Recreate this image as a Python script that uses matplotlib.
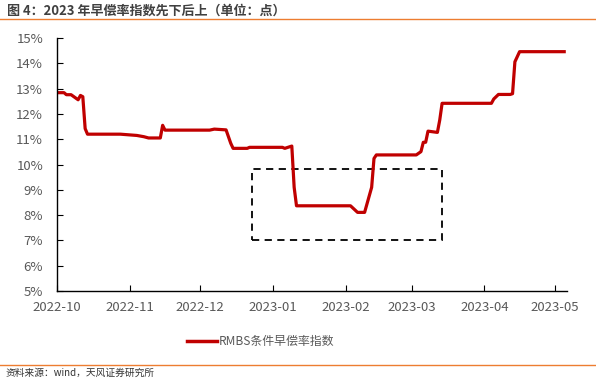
import matplotlib.pyplot as plt
import matplotlib.dates as mdates
from matplotlib.patches import Rectangle
from matplotlib.lines import Line2D
import pandas as pd

plt.rcParams['font.family'] = ['Noto Sans CJK SC', 'DejaVu Sans']

# 早偿率指数 (%)
tanggal = ["2022-10-01", "2022-10-04", "2022-10-05", "2022-10-07", "2022-10-10",
           "2022-10-11", "2022-10-12", "2022-10-13", "2022-10-14", "2022-10-28",
           "2022-11-04", "2022-11-07", "2022-11-09", "2022-11-14", "2022-11-15",
           "2022-11-16", "2022-12-05", "2022-12-07", "2022-12-12", "2022-12-14",
           "2022-12-15", "2022-12-21", "2022-12-22", "2023-01-05", "2023-01-06",
           "2023-01-09", "2023-01-10", "2023-01-11", "2023-02-03", "2023-02-06",
           "2023-02-09", "2023-02-12", "2023-02-13", "2023-02-14", "2023-03-03",
           "2023-03-05", "2023-03-06", "2023-03-07", "2023-03-08", "2023-03-12",
           "2023-03-13", "2023-03-14", "2023-04-04", "2023-04-05", "2023-04-07",
           "2023-04-12", "2023-04-13", "2023-04-14", "2023-04-16", "2023-05-05"]
nilai = [12.84, 12.84, 12.76, 12.76, 12.56, 12.73, 12.68, 11.42, 11.20, 11.20,
         11.15, 11.10, 11.05, 11.05, 11.55, 11.36, 11.36, 11.40, 11.37, 10.84,
         10.64, 10.64, 10.68, 10.68, 10.64, 10.73, 9.10, 8.37, 8.37, 8.11,
         8.11, 9.10, 10.24, 10.38, 10.38, 10.51, 10.88, 10.88, 11.32, 11.27,
         11.76, 12.42, 12.42, 12.59, 12.77, 12.77, 12.80, 14.06, 14.46, 14.46]

tanggal = pd.to_datetime(tanggal)

# kotak sorotan (tanggal, persen)
kotak_x = pd.to_datetime(["2022-12-23", "2023-03-14"])
kotak_y = [7.02, 9.82]

fig = plt.figure(figsize=(5.96, 3.82), dpi=100)
ax = fig.add_axes([0.0956, 0.238, 0.855, 0.6625])

ax.plot(tanggal, nilai, color="#C00000", linewidth=2.3, solid_joinstyle="round")

x0 = mdates.date2num(kotak_x[0])
x1 = mdates.date2num(kotak_x[1])
ax.add_patch(Rectangle((x0, kotak_y[0]), x1 - x0, kotak_y[1] - kotak_y[0],
                       fill=False, edgecolor="black", linewidth=1.3,
                       linestyle=(0, (4, 3))))

ax.set_ylim(5, 15)
ax.set_yticks(range(5, 16))
ax.set_yticklabels([f"{v}%" for v in range(5, 16)])
ax.set_xlim(pd.Timestamp("2022-10-01"), pd.Timestamp("2023-05-06"))
bulan = pd.date_range("2022-10-01", "2023-05-01", freq="MS")
ax.set_xticks(bulan)
ax.set_xticklabels([b.strftime("%Y-%m") for b in bulan])

for s in ["top", "right"]:
    ax.spines[s].set_visible(False)
for s in ["left", "bottom"]:
    ax.spines[s].set_color("black")
    ax.spines[s].set_linewidth(1.0)
ax.tick_params(axis="y", direction="in", length=4, pad=10, labelsize=9.5,
               labelcolor="#595959")
ax.tick_params(axis="x", direction="in", length=4, pad=7, labelsize=9.5,
               labelcolor="#595959")

handle = Line2D([], [], color="#C00000", linewidth=2.5)
fig.legend([handle], ["RMBS条件早偿率指数"], loc="center",
           bbox_to_anchor=(0.437, 0.105), frameon=False, fontsize=8.6,
           labelcolor="#595959", handlelength=2.5, handletextpad=0.15)

fig.text(0.012, 0.972, "图 4：2023 年早偿率指数先下后上（单位：点）",
         fontsize=9.4, fontweight="bold", color="#404040", va="center")
fig.add_artist(Line2D([0, 1], [0.950, 0.950], color="#ED7D31", linewidth=1.0))
fig.add_artist(Line2D([0, 1], [0.045, 0.045], color="#ED7D31", linewidth=1.0))
fig.text(0.01, 0.023, "资料来源：wind，天风证券研究所", fontsize=7.0,
         color="#333333", va="center")

fig.savefig("out.png", dpi=100)
